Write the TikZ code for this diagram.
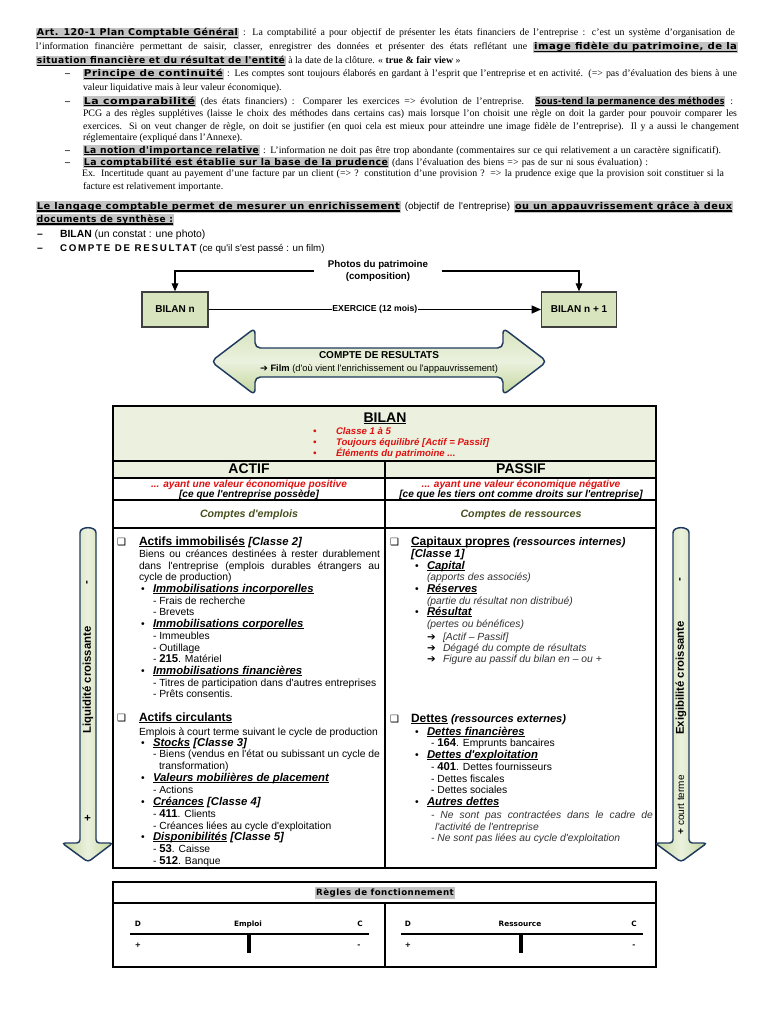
\documentclass[tikz,border=0pt]{standalone}
\usepackage{fontspec}
\usepackage{graphicx}
\setmainfont{Liberation Serif}
\newfontfamily\ar{Liberation Sans}
\newfontfamily\arls[LetterSpace=18]{Liberation Sans}
\newfontfamily\hv[LetterSpace=5]{DejaVu Sans}
\newfontfamily\djv{DejaVu Sans}
\usetikzlibrary{arrows.meta}
\newdimen\px \px=0.75pt
\definecolor{hlgray}{HTML}{C4C4C4}
\definecolor{bgreen}{HTML}{D7E4BD}
\definecolor{lgreen}{HTML}{EBF1DE}
\definecolor{dgreen}{HTML}{C3D69B}
\definecolor{navy}{HTML}{1F3A5F}
\definecolor{bred}{HTML}{E01010}
\definecolor{olive}{HTML}{46501E}
\definecolor{boxgray}{HTML}{3F3F3F}
\definecolor{igray}{HTML}{333333}
\newsavebox\ulb
\newsavebox\fbx
\newcommand\ul[1]{\sbox\ulb{#1}\rlap{\rule[-1.1pt]{\wd\ulb}{0.55pt}}\usebox\ulb}
\newcommand\uul[1]{\sbox\ulb{#1}\rlap{\rule[-1.1pt]{\wd\ulb}{0.5pt}}\rlap{\rule[-2.2pt]{\wd\ulb}{0.5pt}}\usebox\ulb}
\newcommand\fitw[2]{\sbox\fbx{#2}\ifdim\wd\fbx>#1\px\relax\resizebox{#1\px}{\ht\fbx}{\usebox\fbx}\else\makebox[#1\px][s]{#2}\fi}
\newcommand\fitx[2]{\sbox\fbx{#2}\resizebox{#1\px}{\ht\fbx}{\usebox\fbx}}
\newcommand\hd{\hv\bfseries\fontsize{7}{8}\selectfont}
\newcommand\hlw[2]{{\fboxsep=0.7pt\colorbox{hlgray}{\ul{\fitx{#1}{#2}}}}}
\newcommand\hlww[2]{{\fboxsep=0.7pt\colorbox{hlgray}{\uul{\fitx{#1}{#2}}}}}
\newcommand\bi[1]{\textbf{\textit{\ul{#1}}}}
\newcommand\Tn[5][txt]{\node[#1] (#2) at (#3,#4) {#5};}
\tikzset{
 txt/.style={anchor=base west, inner sep=0pt, outer sep=0pt, font=\fontsize{7.4}{8}\selectfont},
 tb/.style={anchor=base west, inner sep=0pt, outer sep=0pt, font=\ar\fontsize{7.75}{9}\selectfont},
 tc/.style={anchor=base, inner sep=0pt, outer sep=0pt, font=\ar\fontsize{7.75}{9}\selectfont},
 th/.style={anchor=base west, inner sep=0pt, outer sep=0pt, font=\ar\bfseries\fontsize{9}{10}\selectfont},
 ck/.style={anchor=base west, inner sep=0pt, outer sep=0pt, font=\djv\fontsize{7.5}{8}\selectfont},
 redb/.style={anchor=base west, inner sep=0pt, outer sep=0pt, text=bred, font=\ar\bfseries\itshape\fontsize{7.2}{8}\selectfont},
 subt/.style={anchor=base, inner sep=0pt, outer sep=0pt, font=\ar\bfseries\itshape\fontsize{7.6}{8}\selectfont},
 cpt/.style={anchor=base, inner sep=0pt, outer sep=0pt, text=olive, font=\ar\bfseries\itshape\fontsize{8}{9}\selectfont},
 gbox/.style={draw=boxgray, line width=1pt, fill=bgreen, minimum height=26.25pt, inner sep=0pt, font=\ar\bfseries\fontsize{7.5}{9}\selectfont},
 conn/.style={draw=black, line width=0.9pt},
 afill/.style={draw=navy, line width=1.1pt, rounded corners=2.5pt},
 tline/.style={draw=black, line width=2.2pt},
 rtxt/.style={rotate=90, inner sep=0pt, font=\ar\bfseries\fontsize{8.5}{9}\selectfont},
 tk/.style={anchor=base, inner sep=0pt, font=\djv\bfseries\fontsize{5.5}{7}\selectfont}
}
\begin{document}
\begin{tikzpicture}[x=0.75pt,y=-0.75pt]
\fill[white] (0,0) rectangle (768,1024);
\useasboundingbox (0,0) rectangle (768,1024);

% ---------------- top text ----------------
\Tn{l1}{36}{36}{\fitw{699}{\hlw{201}{\hd Art. 120-1 Plan Comptable Général} : La comptabilité a pour objectif de présenter les états financiers de l'entreprise : c'est un système d'organisation de}}
\Tn{l2}{36}{50}{\fitw{702}{l'information financière permettant de saisir, classer, enregistrer des données et présenter des états reflétant une \hlw{203}{\hd image fidèle du patrimoine, de la}}}
\Tn{l3}{36}{64}{\hlw{248}{\hd situation financière et du résultat de l'entité} à la date de la clôture. « \textbf{true \& fair view} »}
\Tn{d4}{65}{77}{\textbf{–}}
\Tn{l4}{83}{77}{\fitw{654}{\hlw{139}{\hd Principe de continuité} : Les comptes sont toujours élaborés en gardant à l'esprit que l'entreprise et en activité. (=> pas d'évaluation des biens à une}}
\Tn{l5}{83}{90}{valeur liquidative mais à leur valeur économique).}
\Tn{d6}{65}{104}{\textbf{–}}
\Tn{l6}{83}{104}{\fitw{650}{\hlw{111}{\hd La comparabilité} (des états financiers) : Comparer les exercices => évolution de l'entreprise. \hlw{189}{\hd Sous-tend la permanence des méthodes} :}}
\Tn{l7}{83}{117}{\fitw{654}{PCG a des règles supplétives (laisse le choix des méthodes dans certains cas) mais lorsque l'on choisit une règle on doit la garder pour pouvoir comparer les}}
\Tn{l8}{83}{129}{\fitw{656}{exercices. Si on veut changer de règle, on doit se justifier (en quoi cela est mieux pour atteindre une image fidèle de l'entreprise). Il y a aussi le changement}}
\Tn{l9}{83}{140}{réglementaire (expliqué dans l'Annexe).}
\Tn{d10}{65}{153}{\textbf{–}}
\Tn{l10}{83}{153}{\fitw{638}{\hlw{175}{\hd La notion d'importance relative} : L'information ne doit pas être trop abondante (commentaires sur ce qui relativement a un caractère significatif).}}
\Tn{d11}{65}{165}{\textbf{–}}
\Tn{l11}{83}{165}{\fitw{565}{\hlw{304}{\hd La comptabilité est établie sur la base de la prudence} (dans l'évaluation des biens => pas de sur ni sous évaluation) :}}
\Tn{l12}{82}{176}{\fitw{642}{Ex. Incertitude quant au payement d'une facture par un client (=> ? constitution d'une provision ? => la prudence exige que la provision soit constituer si la}}
\Tn{l13}{83}{189}{facture est relativement importante.}
\Tn{l14}{36}{209}{\fitw{697}{\hlww{363}{\hd Le langage comptable permet de mesurer un enrichissement} {\ar (objectif de l'entreprise)} \hlww{217}{\hd ou un appauvrissement grâce à deux}}}
\Tn{l15}{36}{222}{\hlww{136}{\hd documents de synthèse :}}
\Tn[tb]{d16}{37}{237}{\textbf{–}}
\Tn[tb]{l16}{60}{237}{\fontsize{7.8}{8}\selectfont\textbf{BILAN} (un constat : une photo)}
\Tn[tb]{d17}{37}{251}{\textbf{–}}
\Tn[tb]{l17}{60}{251}{\fontsize{7.3}{8}\selectfont{\arls\bfseries COMPTE DE RESULTAT} (ce qu'il s'est passé : un film)}

% ---------------- diagram ----------------
\node[gbox, minimum width=49.5pt] (bn) at (175,309.5) {BILAN n};
\node[gbox, minimum width=56pt] (bn1) at (579,309.5) {BILAN n + 1};
\node[align=center, inner xsep=10pt, inner ysep=0pt, font=\ar\bfseries\fontsize{7.3}{9}\selectfont] (ph) at (378,271) {Photos du patrimoine\\(composition)};
\draw[conn, -{Triangle[length=6pt,width=5pt]}] (ph.west) -| (bn.north);
\draw[conn, -{Triangle[length=6pt,width=5pt]}] (ph.east) -| (bn1.north);
\draw[conn, -{Triangle[length=7pt,width=6pt]}] (bn.east) -- node[fill=white, inner xsep=0.5pt, inner ysep=1pt, font=\ar\bfseries\fontsize{6.5}{8}\selectfont] (ex) {EXERCICE (12 mois)} (bn1.west);

\path[afill, top color=bgreen, bottom color=dgreen, middle color=lgreen, rounded corners=4pt]
 (211,361.5) -- (255,328) -- (255,348) -- (503,348) -- (503,328) -- (547,361.5) -- (503,395) -- (503,377) -- (255,377) -- (255,395) -- cycle;
\node[tc, font=\ar\bfseries\fontsize{7.5}{9}\selectfont] (cr) at (379,358) {COMPTE DE RESULTATS};
\node[tc, font=\ar\fontsize{7}{9}\selectfont] (film) at (379,371) {{\djv ➔} \textbf{Film} (d'où vient l'enrichissement ou l'appauvrissement)};

% ---------------- BILAN table ----------------
\fill[lgreen] (113,406) rectangle (656,478);
\draw[line width=1pt] (113,461) -- (656,461);
\draw[line width=1pt] (113,478) -- (656,478);
\draw[line width=1pt] (113,500) -- (656,500);
\draw[line width=1pt] (113,528) -- (656,528);
\draw[line width=1pt] (385,461) -- (385,868);
\draw[line width=1.5pt] (113,406) rectangle (656,868);

\node[tc, font=\ar\bfseries\fontsize{10.5}{11}\selectfont] (bil) at (385,422) {\ul{BILAN}};
\Tn[redb]{bb1}{313}{434}{•}
\Tn[redb]{bt1}{336}{434}{Classe 1 à 5}
\Tn[redb]{bb2}{313}{445}{•}
\Tn[redb]{bt2}{336}{445}{Toujours équilibré [Actif = Passif]}
\Tn[redb]{bb3}{313}{456}{•}
\Tn[redb]{bt3}{336}{456}{Éléments du patrimoine ...}
\node[tc, font=\ar\bfseries\fontsize{10.5}{11}\selectfont] (actif) at (249,473) {ACTIF};
\node[tc, font=\ar\bfseries\fontsize{10.5}{11}\selectfont] (passif) at (521,473) {PASSIF};
\node[subt, text=bred] (sa1) at (249,487) {... ayant une valeur économique positive};
\node[subt] (sa2) at (249,497) {[ce que l'entreprise possède]};
\node[subt, text=bred] (sp1) at (521,487) {... ayant une valeur économique négative};
\node[subt] (sp2) at (521,497) {[ce que les tiers ont comme droits sur l'entreprise]};
\node[cpt] (ce) at (249,517) {Comptes d'emplois};
\node[cpt] (cre) at (521,517) {Comptes de ressources};

% left column
\Tn[ck]{c1}{117}{545}{❑}
\Tn[th]{a1}{139}{545}{\ul{Actifs immobilisés} {\itshape\fontsize{8.5}{9}\selectfont [Classe 2]}}
\Tn[tb]{a2}{139}{557}{\fitw{241}{Biens ou créances destinées à rester durablement}}
\Tn[tb]{a3}{139}{569}{\fitw{241}{dans l'entreprise (emplois durables étrangers au}}
\Tn[tb]{a4}{139}{580}{cycle de production)}
\Tn[tb]{a5b}{141}{592}{•}
\Tn[tb]{a5}{153}{592}{\fontsize{8.5}{9}\selectfont\bi{Immobilisations incorporelles}}
\Tn[tb]{a6}{153}{604}{- Frais de recherche}
\Tn[tb]{a7}{153}{615}{- Brevets}
\Tn[tb]{a8b}{141}{627}{•}
\Tn[tb]{a8}{153}{627}{\fontsize{8.5}{9}\selectfont\bi{Immobilisations corporelles}}
\Tn[tb]{a9}{153}{639}{- Immeubles}
\Tn[tb]{a10}{153}{651}{- Outillage}
\Tn[tb]{a11}{153}{662}{- {\bfseries\fontsize{8.5}{9}\selectfont 215}. Matériel}
\Tn[tb]{a12b}{141}{674}{•}
\Tn[tb]{a12}{153}{674}{\fontsize{8.5}{9}\selectfont\bi{Immobilisations financières}}
\Tn[tb]{a13}{153}{686}{- Titres de participation dans d'autres entreprises}
\Tn[tb]{a14}{153}{697}{- Prêts consentis.}
\Tn[ck]{c2}{117}{721}{❑}
\Tn[th]{b1}{139}{721}{\ul{Actifs circulants}}
\Tn[tb]{b2}{139}{735}{Emplois à court terme suivant le cycle de production}
\Tn[tb]{b3b}{141}{746}{•}
\Tn[tb]{b3}{153}{746}{\fontsize{8.5}{9}\selectfont\bi{Stocks} \textbf{\textit{[Classe 3]}}}
\Tn[tb]{b4}{153}{757}{\fitw{227}{- Biens (vendus en l'état ou subissant un cycle de}}
\Tn[tb]{b5}{159}{769}{transformation)}
\Tn[tb]{b6b}{141}{781}{•}
\Tn[tb]{b6}{153}{781}{\fontsize{8.5}{9}\selectfont\bi{Valeurs mobilières de placement}}
\Tn[tb]{b7}{153}{793}{- Actions}
\Tn[tb]{b8b}{141}{805}{•}
\Tn[tb]{b8}{153}{805}{\fontsize{8.5}{9}\selectfont\bi{Créances} \textbf{\textit{[Classe 4]}}}
\Tn[tb]{b9}{153}{817}{- {\bfseries\fontsize{8.5}{9}\selectfont 411}. Clients}
\Tn[tb]{b10}{153}{829}{- Créances liées au cycle d'exploitation}
\Tn[tb]{b11b}{141}{840}{•}
\Tn[tb]{b11}{153}{840}{\fontsize{8.5}{9}\selectfont\bi{Disponibilités} \textbf{\textit{[Classe 5]}}}
\Tn[tb]{b12}{153}{852}{- {\bfseries\fontsize{8.5}{9}\selectfont 53}. Caisse}
\Tn[tb]{b13}{153}{864}{- {\bfseries\fontsize{8.5}{9}\selectfont 512}. Banque}

% right column
\Tn[ck]{c3}{390}{545}{❑}
\Tn[th]{p1}{411}{545}{\ul{Capitaux propres} {\itshape\fontsize{8.3}{9}\selectfont (ressources internes)}}
\Tn[tb]{p2}{411}{557}{\fontsize{8.5}{9}\selectfont\textbf{\textit{[Classe 1]}}}
\Tn[tb]{p3b}{415}{569}{•}
\Tn[tb]{p3}{427}{569}{\fontsize{8.5}{9}\selectfont\bi{Capital}}
\Tn[tb]{p4}{427}{580}{\color{igray}\itshape (apports des associés)}
\Tn[tb]{p5b}{415}{592}{•}
\Tn[tb]{p5}{427}{592}{\fontsize{8.5}{9}\selectfont\bi{Réserves}}
\Tn[tb]{p6}{427}{604}{\color{igray}\itshape (partie du résultat non distribué)}
\Tn[tb]{p7b}{415}{615}{•}
\Tn[tb]{p7}{427}{615}{\fontsize{8.5}{9}\selectfont\bi{Résultat}}
\Tn[tb]{p8}{427}{627}{\color{igray}\itshape (pertes ou bénéfices)}
\Tn[tb]{p9a}{427}{640}{{\djv ➔}}
\Tn[tb]{p9}{443}{640}{\color{igray}\itshape [Actif – Passif]}
\Tn[tb]{p10a}{427}{651}{{\djv ➔}}
\Tn[tb]{p10}{443}{651}{\color{igray}\itshape Dégagé du compte de résultats}
\Tn[tb]{p11a}{427}{662}{{\djv ➔}}
\Tn[tb]{p11}{443}{662}{\color{igray}\itshape Figure au passif du bilan en – ou +}
\Tn[ck]{c4}{390}{722}{❑}
\Tn[th]{q1}{411}{722}{\ul{Dettes} {\itshape\fontsize{8.3}{9}\selectfont (ressources externes)}}
\Tn[tb]{q2b}{415}{735}{•}
\Tn[tb]{q2}{427}{735}{\fontsize{8.5}{9}\selectfont\bi{Dettes financières}}
\Tn[tb]{q3}{431}{746}{- {\bfseries\fontsize{8.5}{9}\selectfont 164}. Emprunts bancaires}
\Tn[tb]{q4b}{415}{758}{•}
\Tn[tb]{q4}{427}{758}{\fontsize{8.5}{9}\selectfont\bi{Dettes d'exploitation}}
\Tn[tb]{q5}{431}{770}{- {\bfseries\fontsize{8.5}{9}\selectfont 401}. Dettes fournisseurs}
\Tn[tb]{q6}{431}{782}{- Dettes fiscales}
\Tn[tb]{q7}{431}{793}{- Dettes sociales}
\Tn[tb]{q8b}{415}{805}{•}
\Tn[tb]{q8}{427}{805}{\fontsize{8.5}{9}\selectfont\bi{Autres dettes}}
\Tn[tb]{q9}{431}{818}{\color{igray}\itshape\fitw{222}{- Ne sont pas contractées dans le cadre de}}
\Tn[tb]{q10}{435}{830}{\color{igray}\itshape l'activité de l'entreprise}
\Tn[tb]{q11}{431}{841}{\color{igray}\itshape - Ne sont pas liées au cycle d'exploitation}

% ---------------- vertical arrows ----------------
\path[afill, left color=dgreen, right color=dgreen, middle color=lgreen]
 (80,843) -- (80,536) .. controls (80,526) and (96,526) .. (96,536) -- (96,843) -- (113,843) -- (88,862) -- (62,843) -- cycle;
\path[afill, left color=dgreen, right color=dgreen, middle color=lgreen]
 (673,843) -- (673,536) .. controls (673,526) and (689,526) .. (689,536) -- (689,843) -- (707,843) -- (681,862) -- (655,843) -- cycle;
\node[rtxt] (liq) at (88,680) {Liquidité croissante};
\node[rtxt] (lmin) at (88,583) {-};
\node[rtxt] (lplus) at (88,818) {+};
\node[rtxt] (exi) at (681,678) {Exigibilité croissante};
\node[rtxt] (rmin) at (681,580) {-};
\node[rtxt, font=\ar\bfseries\fontsize{7.5}{9}\selectfont] (rplus) at (681,805) {+ {\mdseries court terme}};

% ---------------- bottom table ----------------
\draw[line width=1.5pt] (113,882) rectangle (656,967);
\draw[line width=1.5pt] (113,903) -- (656,903);
\draw[line width=1.5pt] (385,903) -- (385,967);
\node[font=\hv\bfseries\fontsize{6.5}{8}\selectfont, fill=hlgray, inner sep=1pt] (rg) at (385,893) {Règles de fonctionnement};
\coordinate (eL) at (130,934); \coordinate (eR) at (369,934);
\coordinate (eS) at (249,934); \coordinate (eB) at (249,953);
\draw[tline] (eL) -- (eR);
\draw[draw=black, line width=2.6pt] (eS) -- (eB);
\node[tk] (eD) at (138,926) {D};
\node[tk] (eE) at (248,926) {Emploi};
\node[tk] (eC) at (360,926) {C};
\node[tk] (eP) at (138,947) {+};
\node[tk] (eM) at (359,947) {-};
\coordinate (rL) at (401,934); \coordinate (rR) at (643,934);
\coordinate (rS) at (521,934); \coordinate (rB) at (521,953);
\draw[tline] (rL) -- (rR);
\draw[draw=black, line width=2.6pt] (rS) -- (rB);
\node[tk] (rD) at (408,926) {D};
\node[tk] (rE) at (520,926) {Ressource};
\node[tk] (rC) at (634,926) {C};
\node[tk] (rP) at (408,947) {+};
\node[tk] (rM) at (634,947) {-};
\end{tikzpicture}
\end{document}
